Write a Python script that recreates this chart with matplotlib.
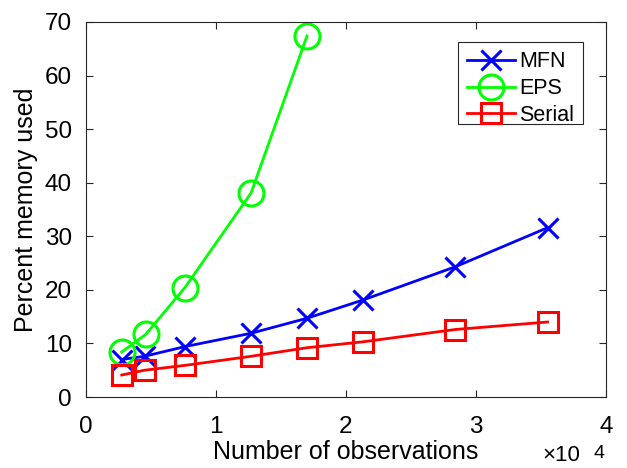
import matplotlib
matplotlib.use('Agg')
import matplotlib.pyplot as plt
from matplotlib.patches import Rectangle

plt.rcParams['font.family'] = ['Liberation Sans', 'DejaVu Sans']

# memory usage vs. number of observations
obs = [2750, 4500, 7600, 12700, 17000, 21300, 28400, 35500]
mfn = [7.0, 7.6, 9.4, 11.9, 14.7, 18.1, 24.3, 31.6]
eps_obs = [2750, 4600, 7600, 12700, 17000]
eps = [8.4, 11.7, 20.4, 38.1, 67.4]
serial = [4.1, 5.0, 5.9, 7.6, 9.2, 10.3, 12.6, 14.0]

xticks = [0, 10000, 20000, 30000, 40000]
xticklabels = ['0', '1', '2', '3', '4']
yticks = [0, 10, 20, 30, 40, 50, 60, 70]

W, H = 627, 468
fig = plt.figure(figsize=(W / 100, H / 100), dpi=100)
ax = fig.add_axes([86 / W, 1 - 397 / H, 520 / W, 375 / H])

ax.plot(obs, mfn, color='#0000ff', lw=2, marker='x', ms=14, mew=2.2, label='MFN')
ax.plot(eps_obs, eps, color='#00ff00', lw=2, marker='o', ms=18, mew=2.2,
        mfc='none', label='EPS')
ax.plot(obs, serial, color='#ff0000', lw=2, marker='s', ms=14, mew=2.2,
        mfc='none', label='Serial')

ax.set_xlim(0, 40000)
ax.set_ylim(0, 70)
ax.set_xticks(xticks)
ax.set_xticklabels(xticklabels)
ax.set_yticks(yticks)
ax.tick_params(direction='in', top=True, right=True, length=5, width=0.8,
               labelsize=17.5, colors='#262626', labelcolor='black')
ax.tick_params(axis='x', pad=14)
ax.tick_params(axis='y', pad=10)
for s in ax.spines.values():
    s.set_color('#262626')
    s.set_linewidth(0.8)

ax.set_xlabel('Number of observations', fontsize=18, labelpad=1)
ax.set_ylabel('Percent memory used', fontsize=18, labelpad=5)

# exponent for the x axis
fig.text(542 / W, 1 - 461 / H, '×10', fontsize=16, ha='left', va='baseline')
fig.text(594 / W, 1 - 458 / H, '4', fontsize=14, ha='left', va='baseline')

# legend with a wider box than the entries need
ax.add_patch(Rectangle((458 / W, 1 - 124 / H), 125 / W, 82 / H,
                       transform=fig.transFigure, facecolor='white',
                       edgecolor='#262626', lw=0.8, zorder=4, clip_on=False))
leg = ax.legend(loc='upper left', bbox_to_anchor=(458 / W, 1 - 42 / H),
                bbox_transform=fig.transFigure, fontsize=15.5, frameon=False,
                handlelength=2.2, handletextpad=0.2, borderpad=0.43,
                labelspacing=0.27, borderaxespad=0)
leg.set_zorder(5)

fig.savefig('out.png', dpi=100)
